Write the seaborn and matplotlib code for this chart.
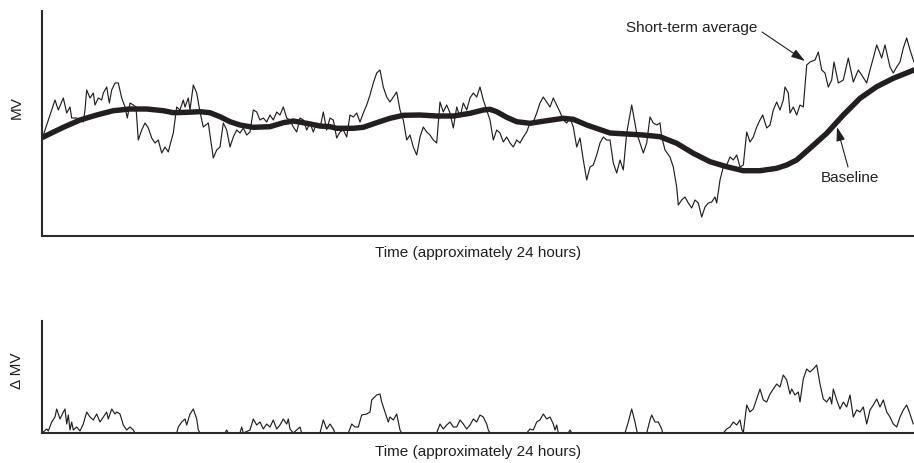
import matplotlib
matplotlib.use("Agg")
import matplotlib.pyplot as plt
import seaborn as sns

# ---------------- data (time in arbitrary units across ~24 h, MV arbitrary units) -------------
baseline_t = [0.7, 21.3, 38, 54.7, 71.3, 88, 104.7, 121.3, 131.3, 144.7, 158, 168, 178, 188,
              198, 211.3, 228, 241.3, 251.3, 264.7, 278, 288, 294.7, 311.3, 321.3, 334.7, 348,
              361.3, 378, 394.7, 411.3, 428, 441.3, 448, 454.7, 464.7, 474.7, 488, 504.7,
              521.3, 531.3, 544.7, 561.3, 568, 584.7, 601.3, 618, 634.7, 651.3, 668, 684.7,
              701.3, 718, 734.7, 744.7, 754.7, 768, 784.7, 801.3, 818, 834.7, 851.3, 872]
baseline_mv = [98.7, 108.7, 116, 121, 125.3, 127, 127, 125.3, 123.3, 123.7, 124.3, 123.3, 119.3,
               114.3, 111, 108.7, 109.3, 113.3, 115, 112.7, 110, 109.3, 107.7, 107.7, 108.7,
               113.3, 117.7, 120.7, 121, 120, 120, 122.7, 126, 126.7, 124.3, 118.7, 114.3,
               112.7, 115.3, 117.7, 116.7, 111, 105.3, 103, 102, 101, 99.3, 92.7, 82.7, 74.3,
               69.3, 65.3, 65.3, 67.7, 71, 76, 87.7, 102.7, 121, 137.7, 149.3, 157.7, 166]

short_t = [0.7, 13, 16.3, 21.3, 24.7, 28, 29.7, 34.7, 41.3, 43, 44.7, 48, 51.3, 53, 56.3, 59.7,
           61.3, 64.7, 67.3, 69.7, 73, 76.3, 79.7, 83, 85.3, 88, 91.3, 94, 96.3, 99.7, 103,
           106.3, 109.7, 113, 116.3, 119.7, 123, 126.3, 128, 131.3, 134.7, 138, 141.3, 143,
           146.3, 148, 151.3, 154.7, 158, 161.3, 166.3, 171.3, 174.7, 178, 181.3, 184.7, 188,
           191.3, 194.7, 198, 201.3, 204.7, 208, 211.3, 214.7, 218, 221.3, 224.7, 228, 231.3,
           234.7, 238, 241.3, 244.7, 248, 251.3, 254.7, 258, 261.3, 264.7, 268, 271.3, 274.7,
           278, 281.3, 284.7, 288, 291.3, 294.7, 298, 301.3, 304.7, 308, 311.3, 314.7, 318,
           321.3, 324.7, 328, 331.3, 334.7, 338, 341.3, 344.7, 348, 351.3, 354.7, 358, 361.3,
           364.7, 368, 371.3, 374.7, 378, 381.3, 384.7, 388, 391.3, 394.7, 398, 401.3, 404.7,
           408, 411.3, 414.7, 418, 421.3, 424.7, 428, 431.3, 434.7, 438, 441.3, 444.7, 448,
           451.3, 454.7, 458, 461.3, 464.7, 468, 471.3, 474.7, 478, 481.3, 484.7, 488, 491.3,
           494.7, 498, 501.3, 504.7, 508, 511.3, 514.7, 518, 521.3, 524.7, 528, 531.3, 534.7,
           538, 541.3, 544.7, 548, 551.3, 554.7, 558, 561.3, 564.7, 568, 571.3, 574.7, 578,
           581.3, 584.7, 589.7, 594.7, 598, 601.3, 604.7, 608, 611.3, 614.7, 618, 619.7, 623,
           628, 631.3, 634.7, 636.3, 639.7, 643, 646.3, 649.7, 653, 656.3, 659.7, 663, 666.3,
           669.7, 673, 674.7, 678, 681.3, 684.7, 688, 691.3, 694.7, 698, 701.3, 704.7, 708,
           711.3, 714.7, 718, 720.7, 724.7, 728, 731.3, 734.7, 738, 741.3, 743, 746.3, 748,
           751.3, 754.7, 758, 761.3, 764.7, 768, 773, 776.3, 779.7, 783, 786.3, 789.7, 792,
           796.3, 801.3, 806.3, 811.3, 816.3, 819.7, 824.7, 828, 831.3, 834.7, 839.7, 843,
           848, 851.3, 854.7, 858, 861.3, 864.7, 868, 872]
short_mv = [99, 136, 126, 138, 123, 129, 118, 118, 114, 126, 146, 138, 143, 131, 138, 136,
            143, 149, 133, 146, 153, 153, 138, 129, 118, 133, 131, 129, 96, 106, 113,
            108, 98, 93, 96, 83, 89, 84, 91, 103, 129, 126, 136, 129,
            138, 126, 151, 143, 124, 109, 113, 78, 86, 89, 113, 106, 89,
            99, 106, 103, 108, 101, 104, 126, 124, 116, 118, 114, 121, 116,
            124, 121, 129, 118, 116, 109, 104, 118, 116, 106, 113, 104, 113,
            108, 124, 106, 118, 116, 98, 104, 106, 99, 121, 119, 123, 114,
            123, 131, 141, 153, 163, 166, 149, 139, 134, 139, 144, 126, 116,
            96, 101, 89, 81, 99, 109, 104, 101, 96, 93, 134, 124, 131,
            123, 108, 129, 119, 133, 126, 138, 143, 139, 149, 136, 126, 116,
            96, 106, 103, 94, 99, 93, 89, 96, 93, 99, 104, 113, 114,
            123, 133, 139, 134, 129, 138, 131, 124, 116, 113, 118, 109, 89,
            98, 76, 56, 69, 71, 81, 93, 99, 96, 96, 73, 63, 76,
            66, 103, 131, 103, 93, 83, 93, 119, 113, 111, 113, 99, 86,
            79, 69, 49, 31, 36, 39, 33, 28, 36, 33, 19, 29, 33,
            34, 39, 33, 56, 69, 71, 79, 76, 81, 69, 71, 104, 94,
            99, 109, 116, 121, 108, 111, 126, 134, 126, 136, 149, 143, 123,
            129, 121, 131, 129, 171, 174, 176, 184, 166, 163, 149, 156, 174,
            153, 156, 178, 154, 166, 161, 153, 166, 178, 191, 178, 191,
            169, 163, 169, 174, 188, 198, 186, 174]

delta_t = [1.3, 4.7, 6.3, 9.7, 13, 14.7, 18, 21.3, 23, 24.7, 26.3, 28, 29.7, 31.3, 34.7, 38,
           41.3, 44.7, 48, 51.3, 54.7, 58, 61.3, 64.7, 66.3, 69.7, 73, 74.7, 78, 81.3, 84.7,
           88, 91.3, 93, 134.7, 136.3, 139.7, 143, 144.7, 148, 151.3, 154.7, 156.3, 158, 183,
           184.7, 186.3, 198, 199.7, 201.3, 208, 211.3, 214.7, 218, 221.3, 224.7, 228, 231.3,
           234.7, 238, 241.3, 244.7, 246.3, 248, 251.3, 254.7, 258, 259.7, 278, 281.3, 284.7,
           288, 291.3, 293, 306.3, 309.7, 313, 316.3, 319.7, 324.7, 328, 329.7, 334.7, 338,
           339.7, 343, 346.3, 348, 351.3, 354.7, 358, 359.7, 394.7, 398, 401.3, 404.7, 408,
           411.3, 414.7, 418, 421.3, 424.7, 428, 431.3, 434.7, 438, 441.3, 444.7, 446.3, 448,
           484.7, 488, 491.3, 494.7, 498, 501.3, 504.7, 508, 511.3, 513, 514.7, 516.3, 526.3,
           528, 529.7, 583, 586.3, 589.7, 593, 595.3, 604.7, 608, 609.7, 613, 616.3, 619.7,
           620.7, 681.3, 684.7, 688, 691.3, 694.7, 698, 699.7, 701.3, 704.7, 708, 711.3,
           714.7, 718, 721.3, 724.7, 728, 731.3, 734.7, 738, 741.3, 744.7, 748, 749.7, 753,
           756.3, 758, 761.3, 764.7, 768, 771.3, 774.7, 778, 781.3, 784.7, 788, 789.7, 791.3,
           794.7, 798, 801.3, 804.7, 808, 811.3, 814.7, 818, 821.3, 824.7, 828, 831.3, 834.7,
           838, 841.3, 844.7, 848, 851.3, 854.7, 858, 861.3, 864.7, 868, 871.3]
delta_mv = [1, 4, 2, 11, 16, 24, 14, 21, 24, 9, 18, 3, 11, 3, 6, 2,
            9, 21, 16, 13, 19, 11, 16, 21, 14, 24, 19, 21, 19, 8, 3,
            6, 3, 0, 0, 6, 11, 14, 8, 19, 24, 14, 3, 0, 0,
            3, 0, 0, 6, 0, 3, 14, 8, 11, 4, 9, 6, 13,
            4, 8, 14, 9, 14, 4, 0, 3, 6, 0, 0, 13, 4,
            9, 4, 0, 0, 9, 6, 6, 18, 19, 21, 33, 38, 39,
            31, 21, 11, 16, 13, 19, 3, 0, 0, 9, 4, 8, 11,
            6, 6, 13, 9, 4, 8, 14, 11, 18, 16, 9, 3, 0,
            0, 4, 3, 11, 13, 19, 14, 16, 9, 3, 8, 0, 0,
            3, 0, 0, 11, 24, 11, 0, 0, 13, 18, 11, 11, 4,
            0, 0, 4, 6, 11, 8, 13, 4, 0, 28, 21, 24,
            34, 44, 33, 31, 39, 44, 49, 46, 58, 53, 39, 44, 38,
            41, 31, 54, 64, 61, 64, 68, 49, 34, 31, 36, 29, 44,
            33, 24, 31, 26, 38, 16, 23, 21, 26, 9, 23, 28, 34,
            26, 33, 21, 16, 9, 6, 16, 23, 28, 19, 9]

top_ylabel = "MV"
bottom_ylabel = "\u0394 MV"
xlabel = "Time (approximately 24 hours)"

# ---------------- styling -------------
sns.set_theme(style="white")
plt.rcParams["font.family"] = ["Liberation Sans", "DejaVu Sans"]
ink = "#231f20"
spine_col = "#2b2b2b"

W, H = 914, 463
fig = plt.figure(figsize=(W / 100, H / 100), dpi=100)
ax1 = fig.add_axes([42 / W, 1 - 236 / H, 872 / W, 225 / H])
ax2 = fig.add_axes([42 / W, 1 - 433 / H, 872 / W, 112 / H])

sns.lineplot(x=short_t, y=short_mv, ax=ax1, color=ink, linewidth=0.85,
             estimator=None, sort=False)
sns.lineplot(x=baseline_t, y=baseline_mv, ax=ax1, color=ink, linewidth=3.9,
             estimator=None, sort=False, solid_capstyle="round", solid_joinstyle="round")
sns.lineplot(x=delta_t, y=delta_mv, ax=ax2, color=ink, linewidth=0.85,
             estimator=None, sort=False)

for ax, ylim in ((ax1, 225), (ax2, 112)):
    ax.set_xlim(0, 872)
    ax.set_ylim(0, ylim)
    ax.set_xticks([])
    ax.set_yticks([])
    for s in ("top", "right"):
        ax.spines[s].set_visible(False)
    for s in ("left", "bottom"):
        ax.spines[s].set_color(spine_col)
        ax.spines[s].set_linewidth(1.5)
    ax.patch.set_alpha(0)
    ax.set_xlabel(xlabel, fontsize=11, color=ink)

ax1.xaxis.set_label_coords(0.5, -17 / 225)
ax1.xaxis.label.set_va("center")
ax2.xaxis.set_label_coords(0.5, -19 / 112)
ax2.xaxis.label.set_va("center")

ax1.set_ylabel(top_ylabel, fontsize=11, color=ink)
ax1.yaxis.set_label_coords(-25 / 872, (236 - 108) / 225)
ax1.yaxis.label.set_va("center")
ax2.set_ylabel(bottom_ylabel, fontsize=11, color=ink)
ax2.yaxis.set_label_coords(-25 / 872, (433 - 371) / 112)
ax2.yaxis.label.set_va("center")

arrow = dict(arrowstyle="-|>,head_length=0.7,head_width=0.22", color=ink, lw=0.8,
             shrinkA=0, shrinkB=0)
ax1.text(715, 208, "Short-term average", ha="right", va="center", fontsize=11, color=ink)
ax1.annotate("", xy=(763, 175), xytext=(720, 204), arrowprops=arrow)
ax1.text(808, 58, "Baseline", ha="center", va="center", fontsize=11, color=ink)
ax1.annotate("", xy=(795, 109), xytext=(806, 69), arrowprops=arrow)

fig.savefig("out.png", dpi=100)
